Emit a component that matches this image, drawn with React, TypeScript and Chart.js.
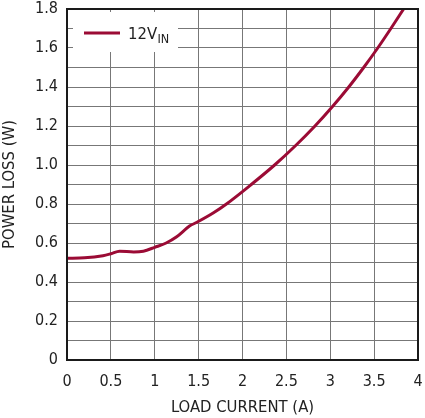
import React, { useEffect, useRef } from "react";
import { Chart, registerables } from "chart.js";

Chart.register(...registerables);

const loadCurrent = [0, 0.2, 0.41, 0.5, 0.6, 0.76, 0.87, 1.0, 1.13, 1.25, 1.4, 1.475, 1.67, 1.817, 2.1, 2.366, 2.606, 2.826, 3.026, 3.211, 3.381, 3.541, 3.691, 3.836];
const powerLoss = [0.522, 0.524, 0.535, 0.545, 0.558, 0.554, 0.558, 0.578, 0.6, 0.632, 0.688, 0.705, 0.755, 0.8, 0.9, 1.0, 1.1, 1.2, 1.3, 1.4, 1.5, 1.6, 1.7, 1.8];

const seriesName = "12V";
const seriesSub = "IN";
const xTitle = "LOAD CURRENT (A)";
const yTitle = "POWER LOSS (W)";

const FONT = "'DejaVu Sans Condensed', 'Liberation Sans Narrow', sans-serif";
const LINE_COLOR = "#9B0B35";
const TEXT_COLOR = "#222";

const zeroPad = (s: any) => {
  s.paddingTop = 0;
  s.paddingBottom = 0;
  s.paddingLeft = 0;
  s.paddingRight = 0;
};

export default function App() {
  const ref = useRef<HTMLCanvasElement | null>(null);
  useEffect(() => {
    if (!ref.current) return;
    const legendPlugin = {
      id: "customLegend",
      beforeDatasetsDraw(chart: any) {
        const ctx = chart.ctx;
        const area = chart.chartArea;
        ctx.save();
        ctx.fillStyle = "#fff";
        ctx.fillRect(area.left + 6, area.top + 3, 105, 40);
        ctx.strokeStyle = LINE_COLOR;
        ctx.lineWidth = 3;
        ctx.beginPath();
        ctx.moveTo(area.left + 17, area.top + 24);
        ctx.lineTo(area.left + 53, area.top + 24);
        ctx.stroke();
        ctx.fillStyle = TEXT_COLOR;
        ctx.textBaseline = "alphabetic";
        ctx.textAlign = "left";
        ctx.font = `16.5px ${FONT}`;
        const x0 = area.left + 61;
        ctx.fillText(seriesName, x0, area.top + 30);
        const w = ctx.measureText(seriesName).width;
        ctx.font = `12.5px ${FONT}`;
        ctx.fillText(seriesSub, x0 + w + 0.5, area.top + 34);
        ctx.restore();
      },
      afterDatasetsDraw(chart: any) {
        const ctx = chart.ctx;
        const a = chart.chartArea;
        ctx.save();
        ctx.strokeStyle = "#1a1a1a";
        ctx.lineWidth = 2;
        ctx.strokeRect(a.left, a.top, a.right - a.left, a.bottom - a.top);
        ctx.restore();
      },
    };
    const chart = new Chart(ref.current, {
      type: "line",
      data: {
        datasets: [
          {
            label: seriesName + seriesSub,
            data: loadCurrent.map((x, i) => ({ x, y: powerLoss[i] })),
            borderColor: LINE_COLOR,
            borderWidth: 3,
            pointRadius: 0,
            cubicInterpolationMode: "monotone",
            fill: false,
          },
        ],
      },
      options: {
        responsive: false,
        animation: false,
        devicePixelRatio: 1,
        layout: { padding: { top: 9, right: 7, left: 0, bottom: 0 } },
        plugins: { legend: { display: false }, tooltip: { enabled: false } },
        scales: {
          x: {
            type: "linear",
            min: 0,
            max: 4,
            afterFit: (s: any) => { s.height = 58; zeroPad(s); },
            ticks: {
              stepSize: 0.5,
              padding: 12,
              color: TEXT_COLOR,
              font: { family: FONT, size: 16 },
              maxRotation: 0,
              callback: (v: any) => String(Math.round(v * 10) / 10),
            },
            grid: { color: "#777", lineWidth: 1, drawTicks: false },
            border: { display: false },
            title: {
              display: true,
              text: xTitle,
              color: TEXT_COLOR,
              font: { family: FONT, size: 16.5 },
              padding: { top: 0, bottom: 0 },
            },
          },
          y: {
            type: "linear",
            min: 0,
            max: 1.8,
            afterFit: (s: any) => { s.width = 67; zeroPad(s); },
            ticks: {
              stepSize: 0.1,
              padding: 9,
              color: TEXT_COLOR,
              font: { family: FONT, size: 16 },
              autoSkip: false,
              callback: (v: any) => {
                const t = Math.round(v * 10);
                if (t % 2 !== 0) return "";
                return t === 0 ? "0" : (t / 10).toFixed(1);
              },
            },
            grid: { color: "#777", lineWidth: 1, drawTicks: false },
            border: { display: false },
            title: {
              display: true,
              text: yTitle,
              color: TEXT_COLOR,
              font: { family: FONT, size: 16.5 },
              padding: { top: 0, bottom: 0 },
            },
          },
        },
      },
      plugins: [legendPlugin],
    } as any);
    return () => chart.destroy();
  }, []);
  return (
    <div style={{ position: "absolute", left: 0, top: 0, width: 425, height: 418, background: "#fff" }}>
      <canvas ref={ref} width={425} height={418} />
    </div>
  );
}
